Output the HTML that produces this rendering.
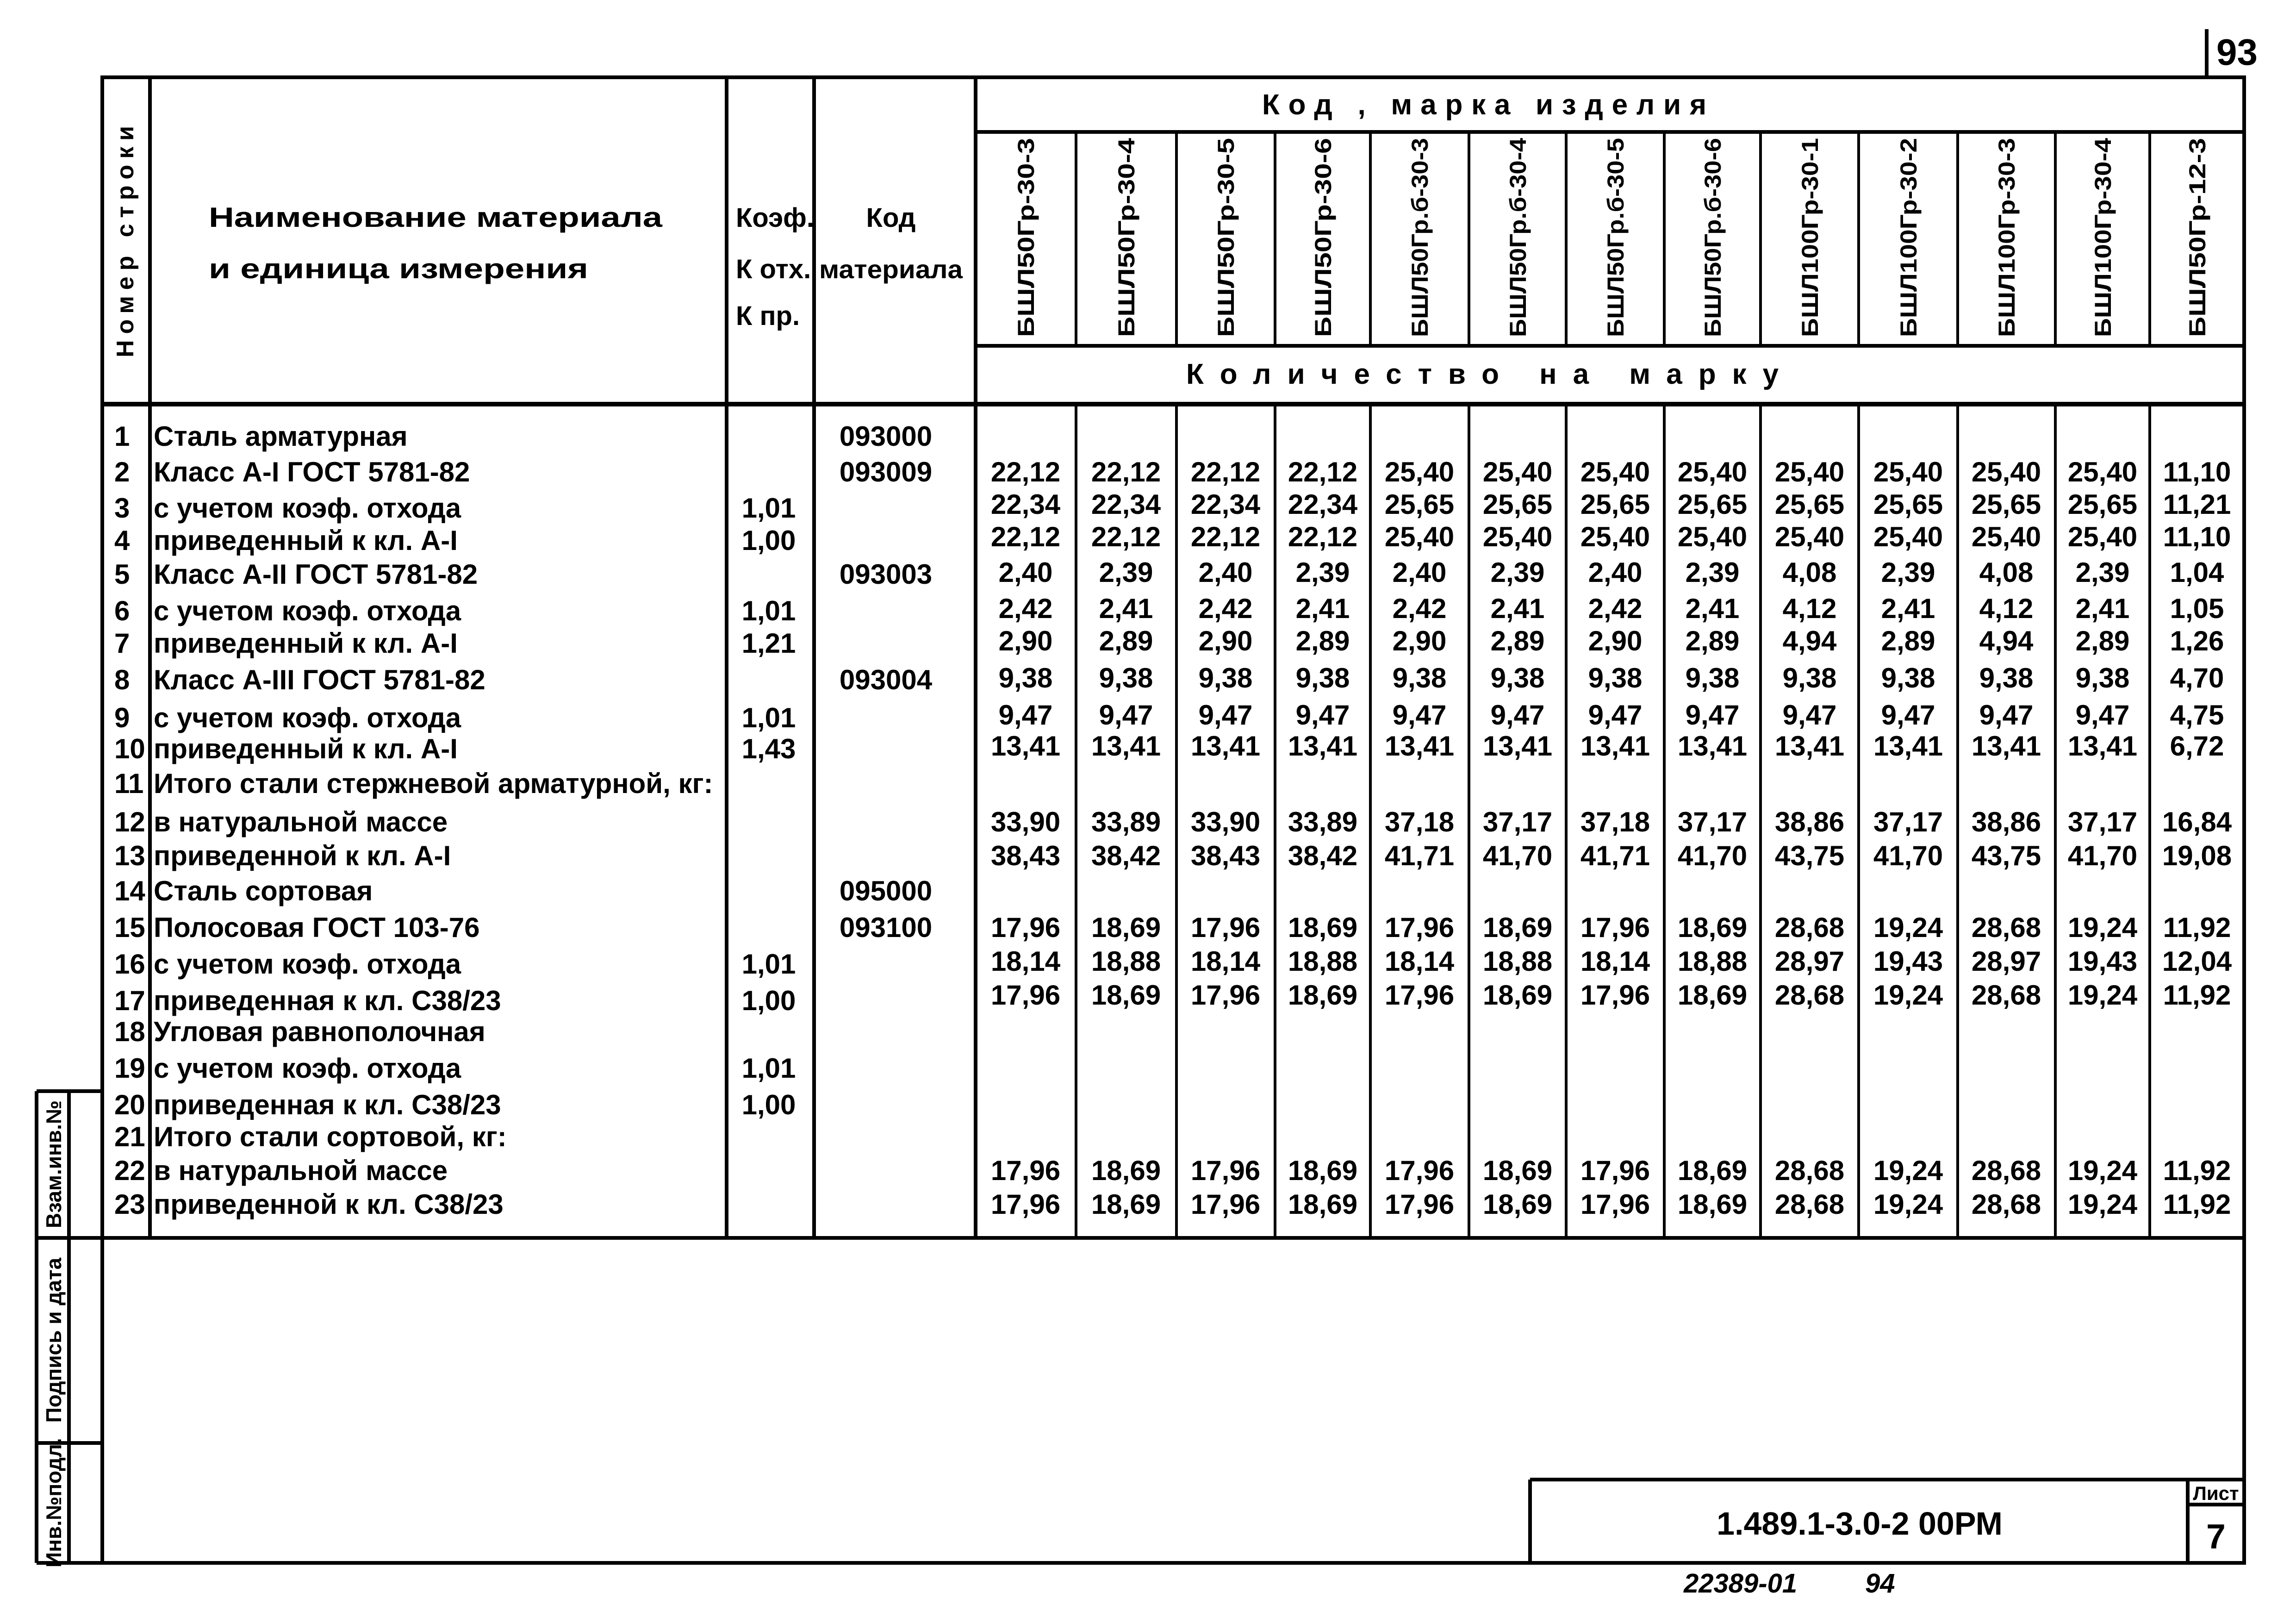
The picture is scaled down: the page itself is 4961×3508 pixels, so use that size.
<!DOCTYPE html>
<html><head><meta charset="utf-8"><style>
html,body{margin:0;padding:0;background:#fff}
svg{display:block}
text{font-family:"Liberation Sans Narrow","Liberation Sans",sans-serif;font-weight:bold;fill:#000}
</style></head><body>
<svg width="4961" height="3508" viewBox="0 0 4961 3508" xmlns="http://www.w3.org/2000/svg">
<g stroke="#000" stroke-width="8" fill="none">
<rect x="221" y="167" width="4628" height="3209"/>
<line x1="4768" y1="63" x2="4768" y2="167"/>
<line x1="324" y1="167" x2="324" y2="2674"/>
<line x1="1570" y1="167" x2="1570" y2="2674"/>
<line x1="1759" y1="167" x2="1759" y2="2674"/>
<line x1="2108" y1="167" x2="2108" y2="2674"/>
<line x1="221" y1="873" x2="4849" y2="873" stroke-width="10"/>
<line x1="221" y1="2674" x2="4849" y2="2674"/>
<line x1="2108" y1="285" x2="4849" y2="285"/>
<line x1="2108" y1="747" x2="4849" y2="747"/>
<g stroke-width="6">
<line x1="2325" y1="285" x2="2325" y2="747"/><line x1="2542" y1="285" x2="2542" y2="747"/><line x1="2755" y1="285" x2="2755" y2="747"/><line x1="2961" y1="285" x2="2961" y2="747"/><line x1="3174" y1="285" x2="3174" y2="747"/><line x1="3384" y1="285" x2="3384" y2="747"/><line x1="3596" y1="285" x2="3596" y2="747"/><line x1="3804" y1="285" x2="3804" y2="747"/><line x1="4016" y1="285" x2="4016" y2="747"/><line x1="4230" y1="285" x2="4230" y2="747"/><line x1="4441" y1="285" x2="4441" y2="747"/><line x1="4645" y1="285" x2="4645" y2="747"/>
<line x1="2325" y1="873" x2="2325" y2="2674"/><line x1="2542" y1="873" x2="2542" y2="2674"/><line x1="2755" y1="873" x2="2755" y2="2674"/><line x1="2961" y1="873" x2="2961" y2="2674"/><line x1="3174" y1="873" x2="3174" y2="2674"/><line x1="3384" y1="873" x2="3384" y2="2674"/><line x1="3596" y1="873" x2="3596" y2="2674"/><line x1="3804" y1="873" x2="3804" y2="2674"/><line x1="4016" y1="873" x2="4016" y2="2674"/><line x1="4230" y1="873" x2="4230" y2="2674"/><line x1="4441" y1="873" x2="4441" y2="2674"/><line x1="4645" y1="873" x2="4645" y2="2674"/>
</g>
<line x1="3306" y1="3196" x2="4849" y2="3196"/>
<line x1="3306" y1="3196" x2="3306" y2="3376"/>
<line x1="4727" y1="3196" x2="4727" y2="3376"/>
<line x1="4727" y1="3250" x2="4849" y2="3250"/>
<line x1="79" y1="2357" x2="79" y2="3376"/>
<line x1="149" y1="2357" x2="149" y2="3376"/>
<line x1="79" y1="2357" x2="221" y2="2357"/>
<line x1="79" y1="2674" x2="221" y2="2674"/>
<line x1="79" y1="3117" x2="221" y2="3117"/>
<line x1="79" y1="3376" x2="290" y2="3376"/>
</g>
<text x="4878" y="140" font-size="80" text-anchor="end">93</text>
<text x="451" y="490" font-size="60" textLength="980" lengthAdjust="spacingAndGlyphs">Наименование материала</text>
<text x="451" y="601" font-size="60" textLength="820" lengthAdjust="spacingAndGlyphs">и единица измерения</text>
<text x="1590" y="490" font-size="58">Коэф.</text>
<text x="1590" y="601" font-size="58">К отх.</text>
<text x="1590" y="702" font-size="58">К пр.</text>
<text x="1925" y="490" font-size="58" text-anchor="middle">Код</text>
<text x="1925" y="601" font-size="56" text-anchor="middle" textLength="310" lengthAdjust="spacingAndGlyphs">материала</text>
<text x="288" y="522" font-size="52" text-anchor="middle" transform="rotate(-90 288 522)" textLength="500" lengthAdjust="spacing">Номер строки</text>
<text x="2727" y="247" font-size="62" textLength="960" lengthAdjust="spacing">Код , марка изделия</text>
<text x="2563" y="829" font-size="62" textLength="1280" lengthAdjust="spacing">Количество на марку</text>
<g font-size="50" text-anchor="middle">
<text transform="translate(2234 513) rotate(-90)" textLength="430" lengthAdjust="spacingAndGlyphs">БШЛ50Гр-30-3</text>
<text transform="translate(2451 513) rotate(-90)" textLength="430" lengthAdjust="spacingAndGlyphs">БШЛ50Гр-30-4</text>
<text transform="translate(2666 513) rotate(-90)" textLength="430" lengthAdjust="spacingAndGlyphs">БШЛ50Гр-30-5</text>
<text transform="translate(2876 513) rotate(-90)" textLength="430" lengthAdjust="spacingAndGlyphs">БШЛ50Гр-30-6</text>
<text transform="translate(3085 513) rotate(-90)" textLength="430" lengthAdjust="spacingAndGlyphs">БШЛ50Гр.б-30-3</text>
<text transform="translate(3297 513) rotate(-90)" textLength="430" lengthAdjust="spacingAndGlyphs">БШЛ50Гр.б-30-4</text>
<text transform="translate(3508 513) rotate(-90)" textLength="430" lengthAdjust="spacingAndGlyphs">БШЛ50Гр.б-30-5</text>
<text transform="translate(3718 513) rotate(-90)" textLength="430" lengthAdjust="spacingAndGlyphs">БШЛ50Гр.б-30-6</text>
<text transform="translate(3928 513) rotate(-90)" textLength="430" lengthAdjust="spacingAndGlyphs">БШЛ100Гр-30-1</text>
<text transform="translate(4141 513) rotate(-90)" textLength="430" lengthAdjust="spacingAndGlyphs">БШЛ100Гр-30-2</text>
<text transform="translate(4353 513) rotate(-90)" textLength="430" lengthAdjust="spacingAndGlyphs">БШЛ100Гр-30-3</text>
<text transform="translate(4561 513) rotate(-90)" textLength="430" lengthAdjust="spacingAndGlyphs">БШЛ100Гр-30-4</text>
<text transform="translate(4765 513) rotate(-90)" textLength="430" lengthAdjust="spacingAndGlyphs">БШЛ50Гр-12-3</text>
</g>
<g font-size="60">
<text x="247" y="963">1</text><text x="247" y="1040">2</text><text x="247" y="1118">3</text><text x="247" y="1188">4</text><text x="247" y="1261">5</text><text x="247" y="1340">6</text><text x="247" y="1410">7</text><text x="247" y="1489">8</text><text x="247" y="1571">9</text><text x="247" y="1638">10</text><text x="247" y="1713">11</text><text x="247" y="1796">12</text><text x="247" y="1869">13</text><text x="247" y="1945">14</text><text x="247" y="2024">15</text><text x="247" y="2103">16</text><text x="247" y="2182">17</text><text x="247" y="2249">18</text><text x="247" y="2328">19</text><text x="247" y="2407">20</text><text x="247" y="2476">21</text><text x="247" y="2549">22</text><text x="247" y="2622">23</text>
<text x="332" y="963">Сталь арматурная</text>
<text x="332" y="1040">Класс А-I ГОСТ 5781-82</text>
<text x="332" y="1118">с учетом коэф. отхода</text>
<text x="332" y="1188">приведенный к кл. А-I</text>
<text x="332" y="1261">Класс А-II ГОСТ 5781-82</text>
<text x="332" y="1340">с учетом коэф. отхода</text>
<text x="332" y="1410">приведенный к кл. А-I</text>
<text x="332" y="1489">Класс А-III ГОСТ 5781-82</text>
<text x="332" y="1571">с учетом коэф. отхода</text>
<text x="332" y="1638">приведенный к кл. А-I</text>
<text x="332" y="1713">Итого стали стержневой арматурной, кг:</text>
<text x="332" y="1796">в натуральной массе</text>
<text x="332" y="1869">приведенной к кл. А-I</text>
<text x="332" y="1945">Сталь сортовая</text>
<text x="332" y="2024">Полосовая ГОСТ 103-76</text>
<text x="332" y="2103">с учетом коэф. отхода</text>
<text x="332" y="2182">приведенная к кл. С38/23</text>
<text x="332" y="2249">Угловая равнополочная</text>
<text x="332" y="2328">с учетом коэф. отхода</text>
<text x="332" y="2407">приведенная к кл. С38/23</text>
<text x="332" y="2476">Итого стали сортовой, кг:</text>
<text x="332" y="2549">в натуральной массе</text>
<text x="332" y="2622">приведенной к кл. С38/23</text>
</g>
<g font-size="60" text-anchor="middle">
<text x="1661" y="1118">1,01</text><text x="1661" y="1188">1,00</text><text x="1661" y="1340">1,01</text><text x="1661" y="1410">1,21</text><text x="1661" y="1571">1,01</text><text x="1661" y="1638">1,43</text><text x="1661" y="2103">1,01</text><text x="1661" y="2182">1,00</text><text x="1661" y="2328">1,01</text><text x="1661" y="2407">1,00</text>
<text x="1914" y="963">093000</text><text x="1914" y="1040">093009</text><text x="1914" y="1261">093003</text><text x="1914" y="1489">093004</text><text x="1914" y="1945">095000</text><text x="1914" y="2024">093100</text>
</g>
<g font-size="60" text-anchor="middle">
<text y="1040"><tspan x="2216">22,12</tspan><tspan x="2433">22,12</tspan><tspan x="2648">22,12</tspan><tspan x="2858">22,12</tspan><tspan x="3067">25,40</tspan><tspan x="3279">25,40</tspan><tspan x="3490">25,40</tspan><tspan x="3700">25,40</tspan><tspan x="3910">25,40</tspan><tspan x="4123">25,40</tspan><tspan x="4335">25,40</tspan><tspan x="4543">25,40</tspan><tspan x="4747">11,10</tspan></text>
<text y="1110"><tspan x="2216">22,34</tspan><tspan x="2433">22,34</tspan><tspan x="2648">22,34</tspan><tspan x="2858">22,34</tspan><tspan x="3067">25,65</tspan><tspan x="3279">25,65</tspan><tspan x="3490">25,65</tspan><tspan x="3700">25,65</tspan><tspan x="3910">25,65</tspan><tspan x="4123">25,65</tspan><tspan x="4335">25,65</tspan><tspan x="4543">25,65</tspan><tspan x="4747">11,21</tspan></text>
<text y="1180"><tspan x="2216">22,12</tspan><tspan x="2433">22,12</tspan><tspan x="2648">22,12</tspan><tspan x="2858">22,12</tspan><tspan x="3067">25,40</tspan><tspan x="3279">25,40</tspan><tspan x="3490">25,40</tspan><tspan x="3700">25,40</tspan><tspan x="3910">25,40</tspan><tspan x="4123">25,40</tspan><tspan x="4335">25,40</tspan><tspan x="4543">25,40</tspan><tspan x="4747">11,10</tspan></text>
<text y="1257"><tspan x="2216">2,40</tspan><tspan x="2433">2,39</tspan><tspan x="2648">2,40</tspan><tspan x="2858">2,39</tspan><tspan x="3067">2,40</tspan><tspan x="3279">2,39</tspan><tspan x="3490">2,40</tspan><tspan x="3700">2,39</tspan><tspan x="3910">4,08</tspan><tspan x="4123">2,39</tspan><tspan x="4335">4,08</tspan><tspan x="4543">2,39</tspan><tspan x="4747">1,04</tspan></text>
<text y="1335"><tspan x="2216">2,42</tspan><tspan x="2433">2,41</tspan><tspan x="2648">2,42</tspan><tspan x="2858">2,41</tspan><tspan x="3067">2,42</tspan><tspan x="3279">2,41</tspan><tspan x="3490">2,42</tspan><tspan x="3700">2,41</tspan><tspan x="3910">4,12</tspan><tspan x="4123">2,41</tspan><tspan x="4335">4,12</tspan><tspan x="4543">2,41</tspan><tspan x="4747">1,05</tspan></text>
<text y="1405"><tspan x="2216">2,90</tspan><tspan x="2433">2,89</tspan><tspan x="2648">2,90</tspan><tspan x="2858">2,89</tspan><tspan x="3067">2,90</tspan><tspan x="3279">2,89</tspan><tspan x="3490">2,90</tspan><tspan x="3700">2,89</tspan><tspan x="3910">4,94</tspan><tspan x="4123">2,89</tspan><tspan x="4335">4,94</tspan><tspan x="4543">2,89</tspan><tspan x="4747">1,26</tspan></text>
<text y="1485"><tspan x="2216">9,38</tspan><tspan x="2433">9,38</tspan><tspan x="2648">9,38</tspan><tspan x="2858">9,38</tspan><tspan x="3067">9,38</tspan><tspan x="3279">9,38</tspan><tspan x="3490">9,38</tspan><tspan x="3700">9,38</tspan><tspan x="3910">9,38</tspan><tspan x="4123">9,38</tspan><tspan x="4335">9,38</tspan><tspan x="4543">9,38</tspan><tspan x="4747">4,70</tspan></text>
<text y="1565"><tspan x="2216">9,47</tspan><tspan x="2433">9,47</tspan><tspan x="2648">9,47</tspan><tspan x="2858">9,47</tspan><tspan x="3067">9,47</tspan><tspan x="3279">9,47</tspan><tspan x="3490">9,47</tspan><tspan x="3700">9,47</tspan><tspan x="3910">9,47</tspan><tspan x="4123">9,47</tspan><tspan x="4335">9,47</tspan><tspan x="4543">9,47</tspan><tspan x="4747">4,75</tspan></text>
<text y="1632"><tspan x="2216">13,41</tspan><tspan x="2433">13,41</tspan><tspan x="2648">13,41</tspan><tspan x="2858">13,41</tspan><tspan x="3067">13,41</tspan><tspan x="3279">13,41</tspan><tspan x="3490">13,41</tspan><tspan x="3700">13,41</tspan><tspan x="3910">13,41</tspan><tspan x="4123">13,41</tspan><tspan x="4335">13,41</tspan><tspan x="4543">13,41</tspan><tspan x="4747">6,72</tspan></text>
<text y="1796"><tspan x="2216">33,90</tspan><tspan x="2433">33,89</tspan><tspan x="2648">33,90</tspan><tspan x="2858">33,89</tspan><tspan x="3067">37,18</tspan><tspan x="3279">37,17</tspan><tspan x="3490">37,18</tspan><tspan x="3700">37,17</tspan><tspan x="3910">38,86</tspan><tspan x="4123">37,17</tspan><tspan x="4335">38,86</tspan><tspan x="4543">37,17</tspan><tspan x="4747">16,84</tspan></text>
<text y="1869"><tspan x="2216">38,43</tspan><tspan x="2433">38,42</tspan><tspan x="2648">38,43</tspan><tspan x="2858">38,42</tspan><tspan x="3067">41,71</tspan><tspan x="3279">41,70</tspan><tspan x="3490">41,71</tspan><tspan x="3700">41,70</tspan><tspan x="3910">43,75</tspan><tspan x="4123">41,70</tspan><tspan x="4335">43,75</tspan><tspan x="4543">41,70</tspan><tspan x="4747">19,08</tspan></text>
<text y="2024"><tspan x="2216">17,96</tspan><tspan x="2433">18,69</tspan><tspan x="2648">17,96</tspan><tspan x="2858">18,69</tspan><tspan x="3067">17,96</tspan><tspan x="3279">18,69</tspan><tspan x="3490">17,96</tspan><tspan x="3700">18,69</tspan><tspan x="3910">28,68</tspan><tspan x="4123">19,24</tspan><tspan x="4335">28,68</tspan><tspan x="4543">19,24</tspan><tspan x="4747">11,92</tspan></text>
<text y="2097"><tspan x="2216">18,14</tspan><tspan x="2433">18,88</tspan><tspan x="2648">18,14</tspan><tspan x="2858">18,88</tspan><tspan x="3067">18,14</tspan><tspan x="3279">18,88</tspan><tspan x="3490">18,14</tspan><tspan x="3700">18,88</tspan><tspan x="3910">28,97</tspan><tspan x="4123">19,43</tspan><tspan x="4335">28,97</tspan><tspan x="4543">19,43</tspan><tspan x="4747">12,04</tspan></text>
<text y="2170"><tspan x="2216">17,96</tspan><tspan x="2433">18,69</tspan><tspan x="2648">17,96</tspan><tspan x="2858">18,69</tspan><tspan x="3067">17,96</tspan><tspan x="3279">18,69</tspan><tspan x="3490">17,96</tspan><tspan x="3700">18,69</tspan><tspan x="3910">28,68</tspan><tspan x="4123">19,24</tspan><tspan x="4335">28,68</tspan><tspan x="4543">19,24</tspan><tspan x="4747">11,92</tspan></text>
<text y="2549"><tspan x="2216">17,96</tspan><tspan x="2433">18,69</tspan><tspan x="2648">17,96</tspan><tspan x="2858">18,69</tspan><tspan x="3067">17,96</tspan><tspan x="3279">18,69</tspan><tspan x="3490">17,96</tspan><tspan x="3700">18,69</tspan><tspan x="3910">28,68</tspan><tspan x="4123">19,24</tspan><tspan x="4335">28,68</tspan><tspan x="4543">19,24</tspan><tspan x="4747">11,92</tspan></text>
<text y="2622"><tspan x="2216">17,96</tspan><tspan x="2433">18,69</tspan><tspan x="2648">17,96</tspan><tspan x="2858">18,69</tspan><tspan x="3067">17,96</tspan><tspan x="3279">18,69</tspan><tspan x="3490">17,96</tspan><tspan x="3700">18,69</tspan><tspan x="3910">28,68</tspan><tspan x="4123">19,24</tspan><tspan x="4335">28,68</tspan><tspan x="4543">19,24</tspan><tspan x="4747">11,92</tspan></text>
</g>
<text x="4018" y="3315" font-size="70" text-anchor="middle">1.489.1-3.0-2 00РМ</text>
<text x="4788" y="3240" font-size="42" text-anchor="middle">Лист</text>
<text x="4788" y="3345" font-size="75" text-anchor="middle">7</text>
<text x="3638" y="3440" font-size="58" font-style="italic" font-weight="normal">22389-01</text>
<text x="4030" y="3440" font-size="58" font-style="italic" font-weight="normal">94</text>
<g font-size="46">
<text transform="translate(132 2515) rotate(-90)" text-anchor="middle">Взам.инв.№</text>
<text transform="translate(132 2895) rotate(-90)" text-anchor="middle">Подпись и дата</text>
<text transform="translate(132 3246) rotate(-90)" text-anchor="middle">Инв.№подл.</text>
</g>
</svg>
</body></html>
